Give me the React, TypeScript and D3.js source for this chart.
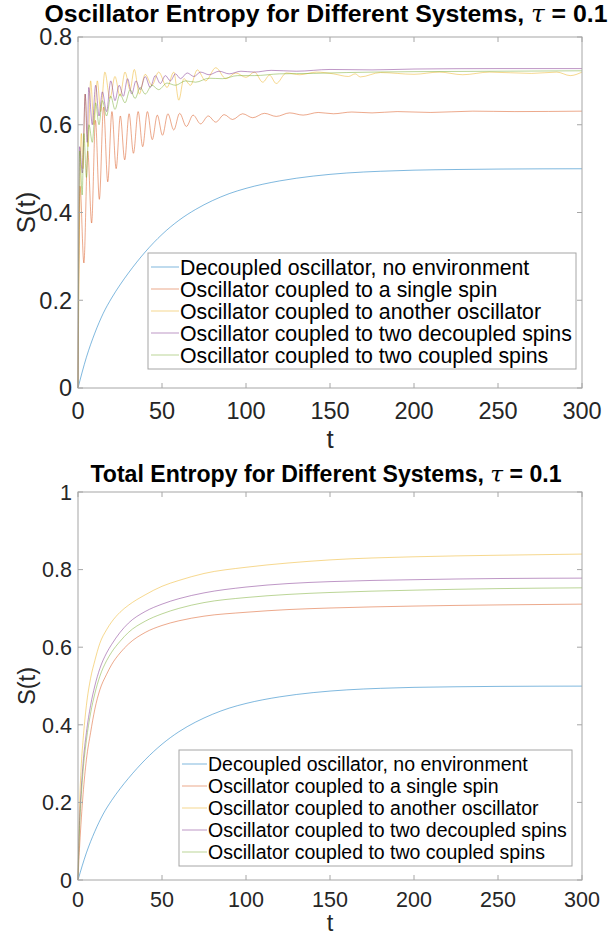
import React from "react";
import * as d3 from "d3";

type Pt = [number, number];

const seriesNames = [
  "Decoupled oscillator, no environment",
  "Oscillator coupled to a single spin",
  "Oscillator coupled to another oscillator",
  "Oscillator coupled to two decoupled spins",
  "Oscillator coupled to two coupled spins",
];
const seriesColors = ["#0072BD", "#D95319", "#EDB120", "#7E2F8E", "#77AC30"];

const xTicks = [0, 50, 100, 150, 200, 250, 300];
const topYTicks = [0, 0.2, 0.4, 0.6, 0.8];
const botYTicks = [0, 0.2, 0.4, 0.6, 0.8, 1];

// Decoupled oscillator (same in both panels)
const decoupled: Pt[] = [
  [0, 0], [5, 0.07], [10, 0.125], [15, 0.17], [20, 0.205], [25, 0.235], [30, 0.262],
  [40, 0.31], [50, 0.35], [60, 0.382], [70, 0.407], [80, 0.427], [90, 0.443],
  [100, 0.455], [120, 0.472], [140, 0.483], [160, 0.49], [180, 0.494], [200, 0.4965],
  [225, 0.498], [250, 0.499], [275, 0.4995], [300, 0.4997],
];

// Oscillator entropy, top panel
const oscSingleSpin: Pt[] = [
  [0, 0], [0.5, 0.3], [1.2, 0.46], [3.5, 0.285], [5.8, 0.54], [8.1, 0.376], [10.4, 0.61],
  [12.7, 0.43], [15.2, 0.64], [17.7, 0.47], [20.2, 0.63], [22.7, 0.5], [25.2, 0.62],
  [27.8, 0.52], [30.4, 0.625], [33, 0.535], [35.8, 0.63], [38.5, 0.55], [41.3, 0.63],
  [44.2, 0.566], [47.2, 0.622], [50.3, 0.576], [53.5, 0.625], [57, 0.588], [60.5, 0.626],
  [64.5, 0.596], [68.5, 0.622], [73, 0.602], [77.5, 0.62], [82, 0.606], [87, 0.623],
  [92, 0.612], [98, 0.625], [104, 0.616], [111, 0.626], [118, 0.619], [126, 0.627],
  [134, 0.622], [143, 0.628], [152, 0.625], [163, 0.629], [175, 0.627], [190, 0.63],
  [210, 0.628], [235, 0.631], [260, 0.63], [300, 0.631],
];
const oscAnotherOsc: Pt[] = [
  [0, 0], [1, 0.4], [2, 0.58], [3, 0.5], [4.2, 0.67], [6, 0.55], [7.5, 0.7], [9.5, 0.6],
  [11.5, 0.7], [13.5, 0.63], [16, 0.72], [19, 0.66], [22, 0.71], [25, 0.665], [28, 0.72],
  [31, 0.68], [33.5, 0.726], [36.5, 0.67], [40, 0.715], [44, 0.69], [48, 0.72], [53, 0.685],
  [57, 0.72], [60, 0.656], [63, 0.705], [67, 0.69], [71, 0.725], [76, 0.7], [82, 0.73],
  [88, 0.705], [94, 0.718], [100, 0.708], [105, 0.72], [110, 0.697], [114, 0.713],
  [118, 0.694], [124, 0.718], [132, 0.714], [142, 0.72], [152, 0.716], [161, 0.71],
  [165, 0.716], [168, 0.709], [180, 0.719], [200, 0.715], [215, 0.72], [229, 0.714],
  [245, 0.72], [270, 0.717], [285, 0.72], [293, 0.712], [300, 0.72],
];
const oscTwoDecoupled: Pt[] = [
  [0, 0], [1, 0.55], [2.6, 0.49], [4.3, 0.67], [5.5, 0.56], [6.4, 0.685], [8.5, 0.6],
  [10.5, 0.69], [12.5, 0.62], [14.5, 0.675], [17, 0.63], [19.5, 0.7], [22, 0.655],
  [24.5, 0.69], [27, 0.665], [29.5, 0.705], [32, 0.67], [34.5, 0.7], [37, 0.68], [40, 0.71],
  [43, 0.685], [46, 0.712], [49, 0.694], [52, 0.712], [55, 0.7], [58, 0.716], [61, 0.705],
  [65, 0.718], [69, 0.71], [73, 0.72], [78, 0.714], [84, 0.722], [90, 0.716], [97, 0.722],
  [105, 0.72], [115, 0.724], [130, 0.722], [150, 0.726], [175, 0.725], [200, 0.727],
  [250, 0.728], [300, 0.728],
];
const oscTwoCoupled: Pt[] = [
  [0, 0], [1, 0.54], [2.5, 0.44], [3.5, 0.58], [5, 0.48], [6.5, 0.6], [8.5, 0.56],
  [10.5, 0.65], [12.5, 0.6], [14.5, 0.655], [17, 0.62], [19.5, 0.665], [22, 0.635],
  [25, 0.67], [28, 0.65], [31, 0.68], [34, 0.66], [37, 0.685], [40, 0.67], [44, 0.69],
  [48, 0.68], [53, 0.695], [58, 0.69], [64, 0.7], [70, 0.697], [78, 0.706], [86, 0.705],
  [95, 0.712], [105, 0.712], [120, 0.716], [140, 0.717], [160, 0.719], [200, 0.721],
  [250, 0.722], [300, 0.723],
];

// Total entropy, bottom panel
const totSingleSpin: Pt[] = [
  [0, 0], [0.5, 0.05], [1, 0.09], [2, 0.16], [3, 0.22], [5, 0.31], [7.5, 0.38], [10, 0.44],
  [13, 0.49], [17, 0.53], [20, 0.555], [25, 0.585], [30, 0.608], [40, 0.638], [50, 0.656],
  [60, 0.668], [75, 0.68], [100, 0.69], [125, 0.697], [150, 0.701], [200, 0.706],
  [250, 0.709], [300, 0.711],
];
const totAnotherOsc: Pt[] = [
  [0, 0], [0.5, 0.12], [1, 0.2], [2, 0.3], [3, 0.36], [5, 0.45], [7.5, 0.52], [10, 0.565],
  [13, 0.61], [17, 0.645], [20, 0.665], [25, 0.69], [30, 0.708], [40, 0.735], [50, 0.757],
  [60, 0.772], [75, 0.79], [100, 0.806], [125, 0.817], [150, 0.825], [200, 0.833],
  [250, 0.837], [300, 0.84],
];
const totTwoDecoupled: Pt[] = [
  [0, 0], [0.5, 0.1], [1, 0.16], [2, 0.24], [3, 0.3], [5, 0.38], [7.5, 0.45], [10, 0.5],
  [13, 0.545], [17, 0.585], [20, 0.607], [25, 0.638], [30, 0.662], [40, 0.692], [50, 0.711],
  [60, 0.725], [75, 0.74], [100, 0.755], [125, 0.764], [150, 0.769], [200, 0.774],
  [250, 0.777], [300, 0.778],
];
const totTwoCoupled: Pt[] = [
  [0, 0], [0.5, 0.08], [1, 0.14], [2, 0.22], [3, 0.28], [5, 0.36], [7.5, 0.43], [10, 0.48],
  [13, 0.525], [17, 0.565], [20, 0.587], [25, 0.615], [30, 0.638], [40, 0.667], [50, 0.686],
  [60, 0.7], [75, 0.715], [100, 0.728], [125, 0.736], [150, 0.741], [200, 0.747],
  [250, 0.751], [300, 0.753],
];

const FONT = "'Liberation Sans', Arial, Helvetica, sans-serif";
const AXIS_GRAY = "#a6a6a6";
const TEXT_DARK = "#262626";

interface PanelProps {
  top: number;
  bottom: number;
  left: number;
  right: number;
  yMax: number;
  yTicks: number[];
  series: Pt[][];
  titleMain: string;
  fs: number;
  titleFs: number;
  titleY: number;
  titleX: number;
  legendFs: number;
  tickGap: number;
  xLabelY: number;
  legend: { x: number; y: number; w: number; row: number; sample: number };
}

function Panel(p: PanelProps) {
  const x = d3.scaleLinear().domain([0, 300]).range([p.left, p.right]);
  const y = d3.scaleLinear().domain([0, p.yMax]).range([p.bottom, p.top]);
  const line = d3
    .line<Pt>()
    .x((d) => x(d[0]))
    .y((d) => y(d[1]))
    .curve(d3.curveMonotoneX);
  const tl = 5;
  const cx = (p.left + p.right) / 2;
  const cy = (p.top + p.bottom) / 2;
  const lg = p.legend;
  return (
    <g fontFamily={FONT}>
      <text x={p.titleX} y={p.titleY} textAnchor="middle" fontWeight="bold" fontSize={p.titleFs} fill="#000">
        {p.titleMain}
        <tspan fontStyle="italic" fontWeight="normal" fontFamily="'DejaVu Serif', serif">τ</tspan>
        {" = 0.1"}
      </text>
      <rect x={p.left} y={p.top} width={p.right - p.left} height={p.bottom - p.top} fill="#fff" />
      {p.series.map((s, i) => (
        <path
          key={i}
          d={line(s) || ""}
          fill="none"
          stroke={seriesColors[i]}
          strokeWidth={1}
          strokeOpacity={0.5}
        />
      ))}
      <rect
        x={p.left}
        y={p.top}
        width={p.right - p.left}
        height={p.bottom - p.top}
        fill="none"
        stroke={AXIS_GRAY}
        strokeWidth={1}
      />
      {xTicks.map((t) => (
        <g key={"x" + t}>
          <line x1={x(t)} x2={x(t)} y1={p.bottom} y2={p.bottom - tl} stroke={AXIS_GRAY} />
          <line x1={x(t)} x2={x(t)} y1={p.top} y2={p.top + tl} stroke={AXIS_GRAY} />
          <text x={x(t)} y={p.bottom + p.tickGap} dy="0.72em" textAnchor="middle" fontSize={p.fs} fill={TEXT_DARK}>
            {t}
          </text>
        </g>
      ))}
      {p.yTicks.map((t) => (
        <g key={"y" + t}>
          <line x1={p.left} x2={p.left + tl} y1={y(t)} y2={y(t)} stroke={AXIS_GRAY} />
          <line x1={p.right} x2={p.right - tl} y1={y(t)} y2={y(t)} stroke={AXIS_GRAY} />
          <text x={p.left - 6} y={y(t)} dy="0.36em" textAnchor="end" fontSize={p.fs} fill={TEXT_DARK}>
            {t}
          </text>
        </g>
      ))}
      <text x={cx} y={p.xLabelY} textAnchor="middle" fontSize={p.fs * 1.1} fill={TEXT_DARK}>
        t
      </text>
      <text
        transform={`translate(${p.left - 52},${cy}) rotate(-90)`}
        textAnchor="middle"
        dy="0.36em"
        fontSize={p.fs * 1.1}
        fill={TEXT_DARK}
      >
        S(t)
      </text>
      <rect
        x={lg.x}
        y={lg.y}
        width={lg.w}
        height={lg.row * seriesNames.length + 6}
        fill="#fff"
        stroke={AXIS_GRAY}
        strokeWidth={1}
      />
      {seriesNames.map((n, i) => {
        const ry = lg.y + 3 + lg.row * (i + 0.5);
        return (
          <g key={n}>
            <line
              x1={lg.x + 3}
              x2={lg.x + 3 + lg.sample}
              y1={ry}
              y2={ry}
              stroke={seriesColors[i]}
              strokeOpacity={0.5}
              strokeWidth={1}
            />
            <text x={lg.x + 4 + lg.sample} y={ry} dy="0.36em" fontSize={p.legendFs} fill="#000">
              {n}
            </text>
          </g>
        );
      })}
    </g>
  );
}

export default function App() {
  return (
    <svg width={613} height={935} style={{ position: "absolute", left: 0, top: 0, background: "#fff" }}>
      <rect width={613} height={935} fill="#fff" />
      <Panel
        top={37}
        bottom={388}
        left={78}
        right={582}
        yMax={0.8}
        yTicks={topYTicks}
        series={[decoupled, oscSingleSpin, oscAnotherOsc, oscTwoDecoupled, oscTwoCoupled]}
        titleMain="Oscillator Entropy for Different Systems, "
        fs={23.5}
        titleFs={24.8}
        titleY={22}
        titleX={326}
        legendFs={21.3}
        tickGap={14}
        xLabelY={448}
        legend={{ x: 148, y: 253, w: 428, row: 22, sample: 28 }}
      />
      <Panel
        top={492}
        bottom={880}
        left={78}
        right={582}
        yMax={1}
        yTicks={botYTicks}
        series={[decoupled, totSingleSpin, totAnotherOsc, totTwoDecoupled, totTwoCoupled]}
        titleMain="Total Entropy for Different Systems, "
        fs={21.5}
        titleFs={23.1}
        titleY={482}
        titleX={326}
        legendFs={19.5}
        tickGap={12}
        xLabelY={931}
        legend={{ x: 179, y: 750, w: 393, row: 22, sample: 25 }}
      />
    </svg>
  );
}
